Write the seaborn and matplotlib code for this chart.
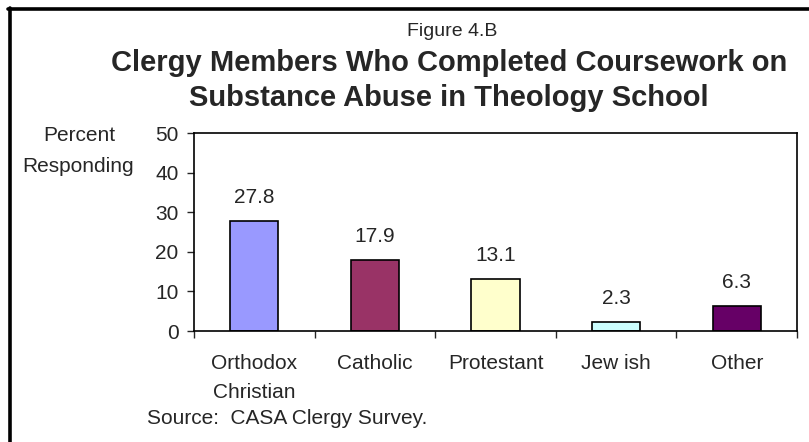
import numpy as np
import pandas as pd
import matplotlib
matplotlib.use("Agg")
import matplotlib.pyplot as plt
from matplotlib.lines import Line2D
import seaborn as sns

# chart data
groups = ["Orthodox\nChristian", "Catholic", "Protestant", "Jew ish", "Other"]
percent = [27.8, 17.9, 13.1, 2.3, 6.3]
bar_colors = ["#9999FF", "#993366", "#FFFFCC", "#CCFFFF", "#660066"]
y_ticks = [0, 10, 20, 30, 40, 50]

df = pd.DataFrame({"group": groups, "percent": percent})

sns.set_style("white")
plt.rcParams["font.family"] = ["Liberation Sans", "DejaVu Sans"]

fig = plt.figure(figsize=(8.09, 4.42), dpi=100)
ax = fig.add_axes([0.2398, 0.251, 0.7454, 0.448])

sns.barplot(data=df, x="group", y="percent", hue="group", palette=bar_colors,
            legend=False, width=0.4, edgecolor="black", linewidth=1.2,
            saturation=1, ax=ax)

for c in ax.containers:
    ax.bar_label(c, fmt="%.1f", padding=10, fontsize=15)

ax.set_xlim(-0.5, len(groups) - 0.5)
ax.set_ylim(0, 50)
ax.set_yticks(y_ticks)
ax.set_xlabel("")
ax.set_ylabel("")

for s in ax.spines.values():
    s.set_visible(True)
    s.set_color("black")
    s.set_linewidth(1.2)

ax.tick_params(axis="y", direction="out", length=5, width=1, pad=6,
               labelsize=15, left=True)
# labels centred, tick marks between categories
ax.set_xticks(np.arange(len(groups) + 1) - 0.5, minor=True)
ax.tick_params(axis="x", which="minor", direction="out", length=5, width=1,
               bottom=True)
ax.tick_params(axis="x", which="major", length=0, pad=16.5, labelsize=15)

# outer frame (top and left edges)
fig.add_artist(Line2D([0.010, 1.0], [0.979, 0.979], color="black", lw=2.6,
                      transform=fig.transFigure))
fig.add_artist(Line2D([0.0125, 0.0125], [0.0, 0.981], color="black", lw=2.6,
                      transform=fig.transFigure))

fig.text(0.559, 0.928, "Figure 4.B", ha="center", va="center", fontsize=14)
fig.text(0.555, 0.858, "Clergy Members Who Completed Coursework on",
         ha="center", va="center", fontsize=21, fontweight="bold")
fig.text(0.555, 0.778, "Substance Abuse in Theology School",
         ha="center", va="center", fontsize=21, fontweight="bold")
fig.text(0.098, 0.693, "Percent", ha="center", va="center", fontsize=15)
fig.text(0.097, 0.623, "Responding", ha="center", va="center", fontsize=15)
fig.text(0.182, 0.054, "Source:  CASA Clergy Survey.", ha="left",
         va="center", fontsize=15)

fig.canvas.draw()
for lab in ax.get_xticklabels():
    lab.set_linespacing(1.65)

fig.savefig("out.png", dpi=100, facecolor="white")
